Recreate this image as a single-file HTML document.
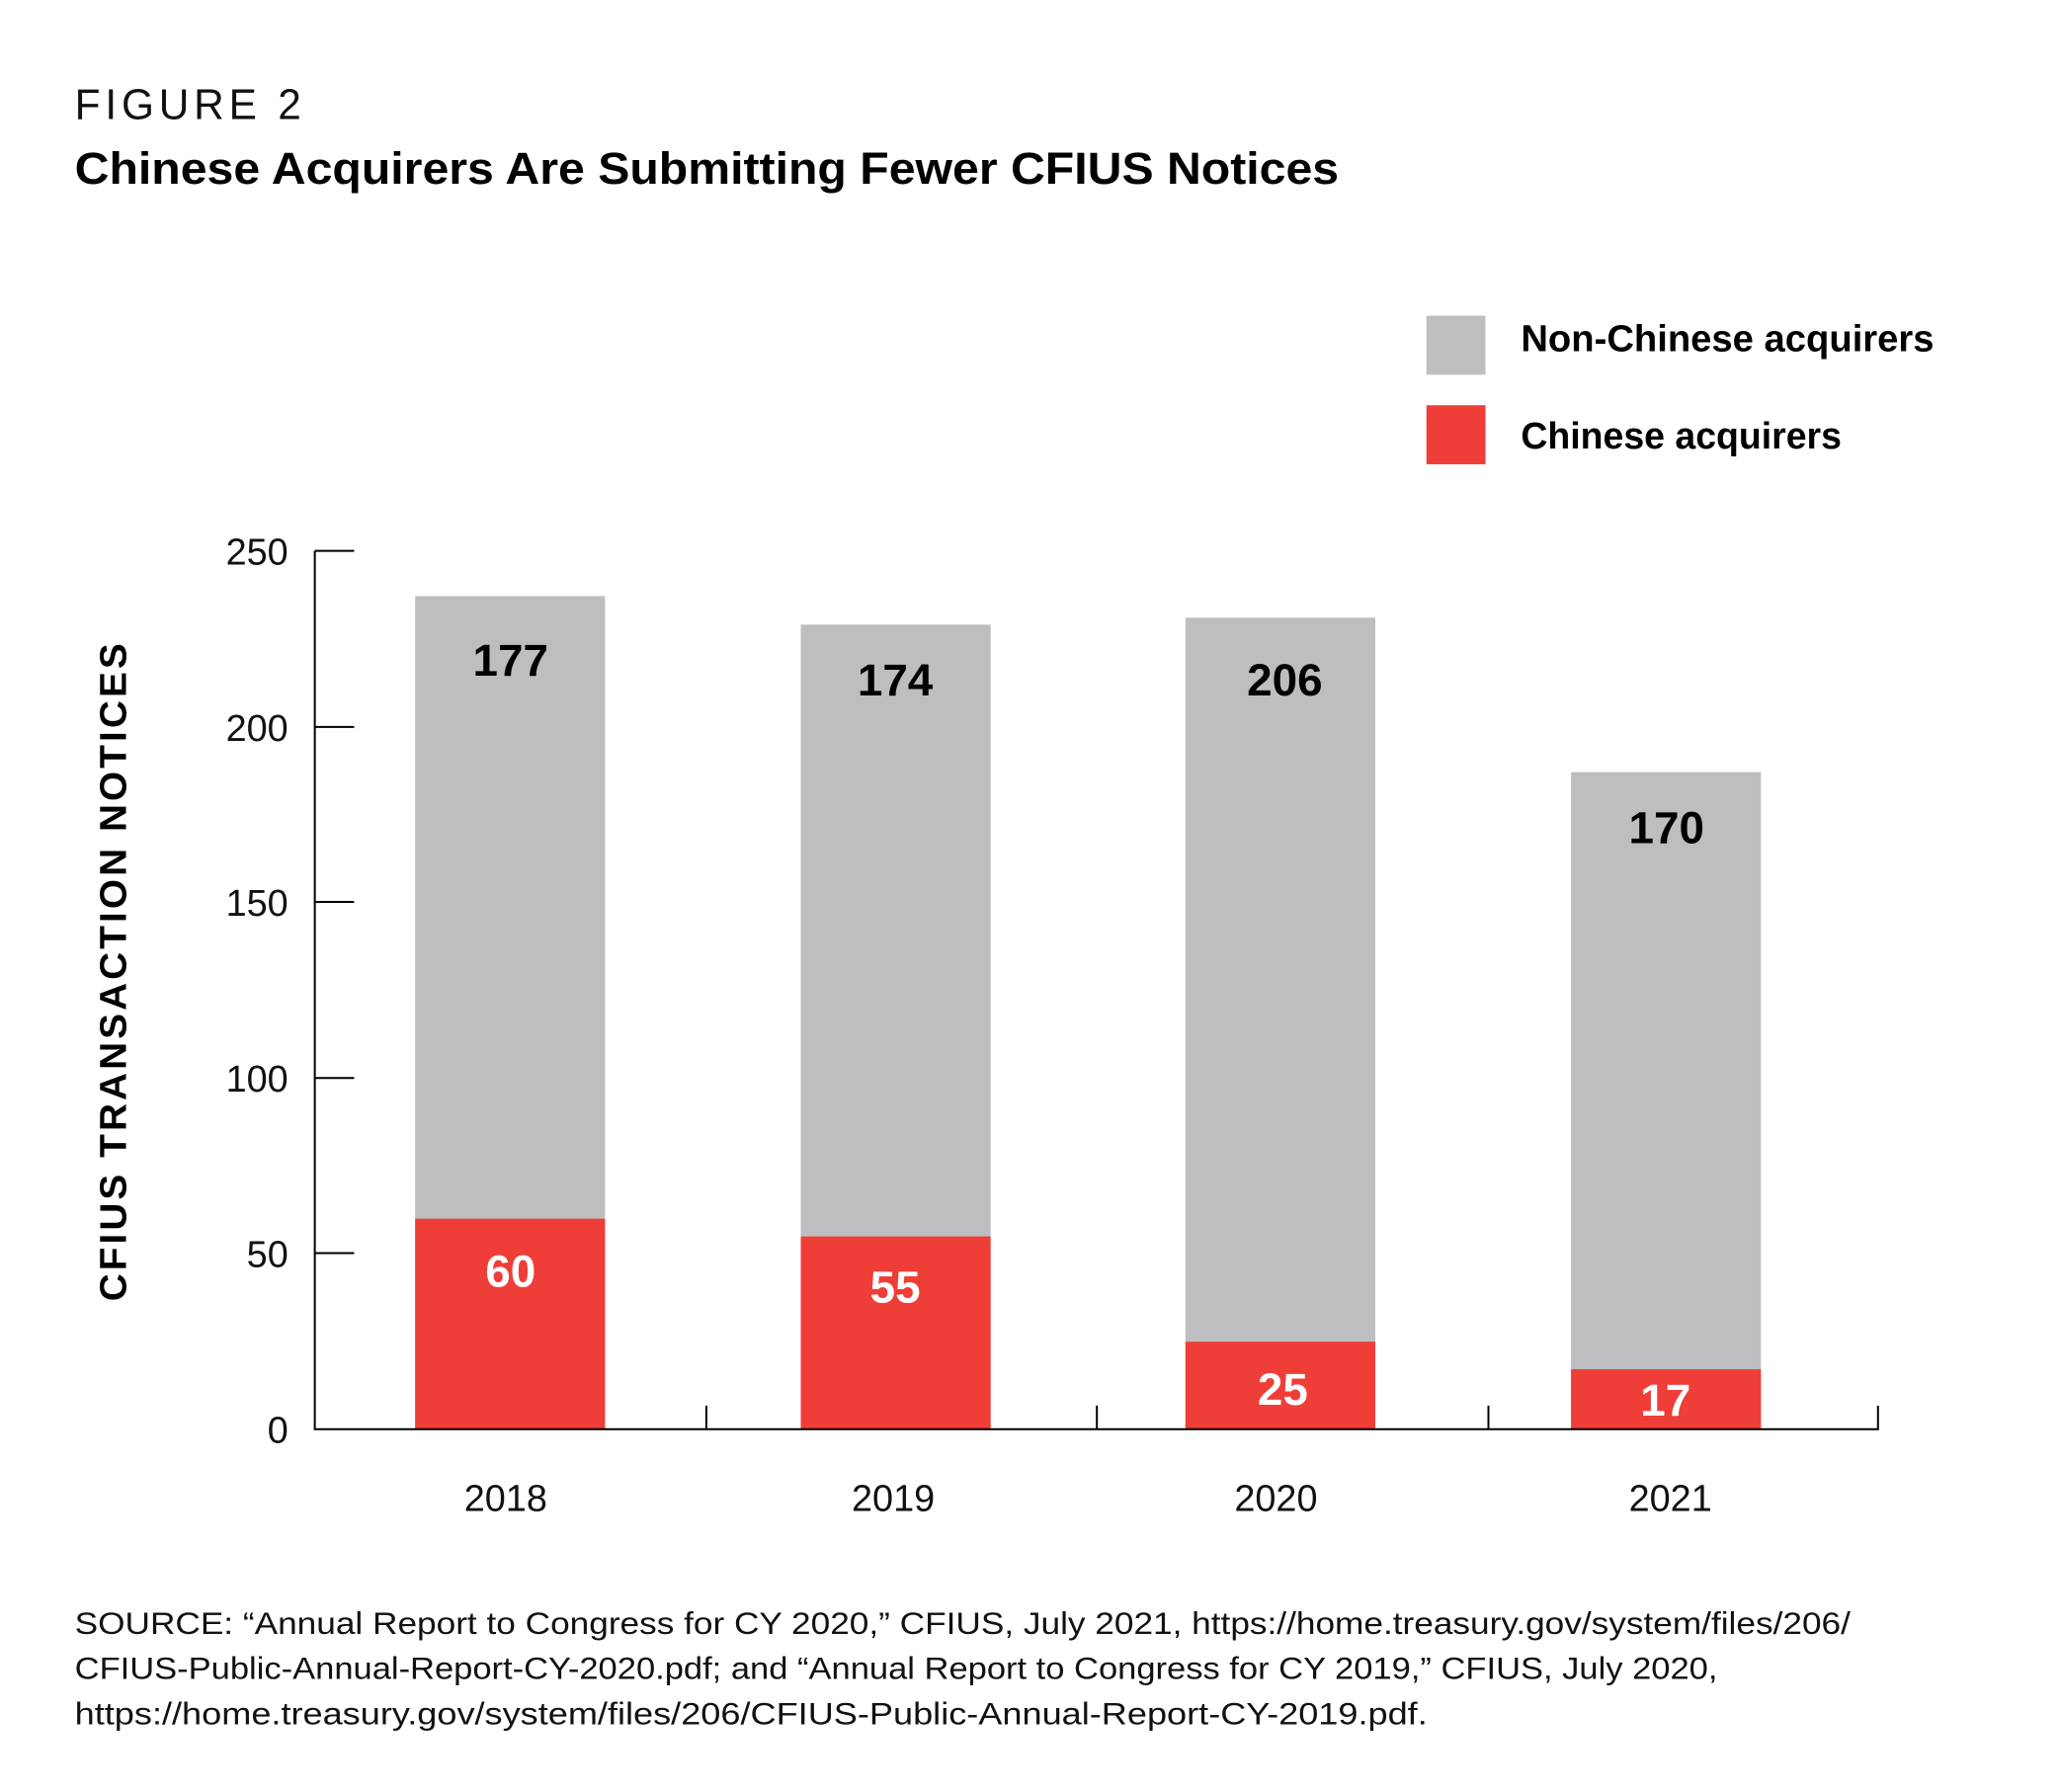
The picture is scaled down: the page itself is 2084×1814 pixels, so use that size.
<!DOCTYPE html>
<html><head><meta charset="utf-8"><style>
html,body{margin:0;padding:0;background:#fff;}
svg{display:block;font-family:"Liberation Sans",sans-serif;}
</style></head><body>
<svg width="2084" height="1814" viewBox="0 0 2084 1814" xmlns="http://www.w3.org/2000/svg">
<rect width="2084" height="1814" fill="#fff"/>
<g transform="translate(-1,-1) scale(0.9957)">
<text x="77" y="122" font-size="44" letter-spacing="5" fill="#111" textLength="235" lengthAdjust="spacingAndGlyphs">FIGURE 2</text>
<text x="77" y="188" font-size="46" font-weight="bold" fill="#000" textLength="1285" lengthAdjust="spacingAndGlyphs">Chinese Acquirers Are Submitting Fewer CFIUS Notices</text>
<rect x="1451" y="322" width="60" height="60" fill="#bdbec0"/>
<rect x="1451" y="413" width="60" height="60" fill="#ee3e37"/>
<text x="1547" y="358" font-size="38" font-weight="bold" fill="#000" textLength="420" lengthAdjust="spacingAndGlyphs">Non-Chinese acquirers</text>
<text x="1547" y="457" font-size="38" font-weight="bold" fill="#000" textLength="326" lengthAdjust="spacingAndGlyphs">Chinese acquirers</text>
<g fill="#bdbec0">
<rect x="423" y="607" width="193" height="847"/>
<rect x="815" y="636" width="193" height="818"/>
<rect x="1206" y="629" width="193" height="825"/>
<rect x="1598" y="786" width="193" height="668"/>
</g>
<g fill="#ee3e37">
<rect x="423" y="1240" width="193" height="214"/>
<rect x="815" y="1258" width="193" height="196"/>
<rect x="1206" y="1365" width="193" height="89"/>
<rect x="1598" y="1393" width="193" height="61"/>
</g>
<g stroke="#000" stroke-width="2" fill="none">
<line x1="321" y1="561" x2="321" y2="1454"/>
<line x1="320" y1="1454" x2="1911" y2="1454"/>
<line x1="321" y1="561" x2="361" y2="561"/>
<line x1="321" y1="740" x2="361" y2="740"/>
<line x1="321" y1="918" x2="361" y2="918"/>
<line x1="321" y1="1097" x2="361" y2="1097"/>
<line x1="321" y1="1275" x2="361" y2="1275"/>
<line x1="719" y1="1430" x2="719" y2="1454"/>
<line x1="1116" y1="1430" x2="1116" y2="1454"/>
<line x1="1514" y1="1430" x2="1514" y2="1454"/>
<line x1="1910" y1="1430" x2="1910" y2="1454"/>
</g>
<g font-size="38" fill="#111" text-anchor="end">
<text x="294" y="575">250</text>
<text x="294" y="754">200</text>
<text x="294" y="932">150</text>
<text x="294" y="1111">100</text>
<text x="294" y="1289">50</text>
<text x="294" y="1468">0</text>
</g>
<g font-size="38" fill="#111" text-anchor="middle">
<text x="515" y="1537">2018</text>
<text x="909" y="1537">2019</text>
<text x="1298" y="1537">2020</text>
<text x="1699" y="1537">2021</text>
</g>
<g font-size="46" font-weight="bold" fill="#000" text-anchor="middle">
<text x="520" y="688">177</text>
<text x="911" y="708">174</text>
<text x="1307" y="708">206</text>
<text x="1695" y="858">170</text>
</g>
<g font-size="46" font-weight="bold" fill="#fff" text-anchor="middle">
<text x="520" y="1309">60</text>
<text x="911" y="1325">55</text>
<text x="1305" y="1429">25</text>
<text x="1694" y="1440">17</text>
</g>
<text transform="translate(129,988) rotate(-90)" font-size="38" font-weight="bold" fill="#000" text-anchor="middle" letter-spacing="3" textLength="672" lengthAdjust="spacingAndGlyphs">CFIUS TRANSACTION NOTICES</text>
<g font-size="32" fill="#111">
<text x="77" y="1662" textLength="1805" lengthAdjust="spacingAndGlyphs">SOURCE: “Annual Report to Congress for CY 2020,” CFIUS, July 2021, https://home.treasury.gov/system/files/206/</text>
<text x="77" y="1708" textLength="1670" lengthAdjust="spacingAndGlyphs">CFIUS-Public-Annual-Report-CY-2020.pdf; and “Annual Report to Congress for CY 2019,” CFIUS, July 2020,</text>
<text x="77" y="1754" textLength="1375" lengthAdjust="spacingAndGlyphs">https://home.treasury.gov/system/files/206/CFIUS-Public-Annual-Report-CY-2019.pdf.</text>
</g>
</g>
</svg>
</body></html>
